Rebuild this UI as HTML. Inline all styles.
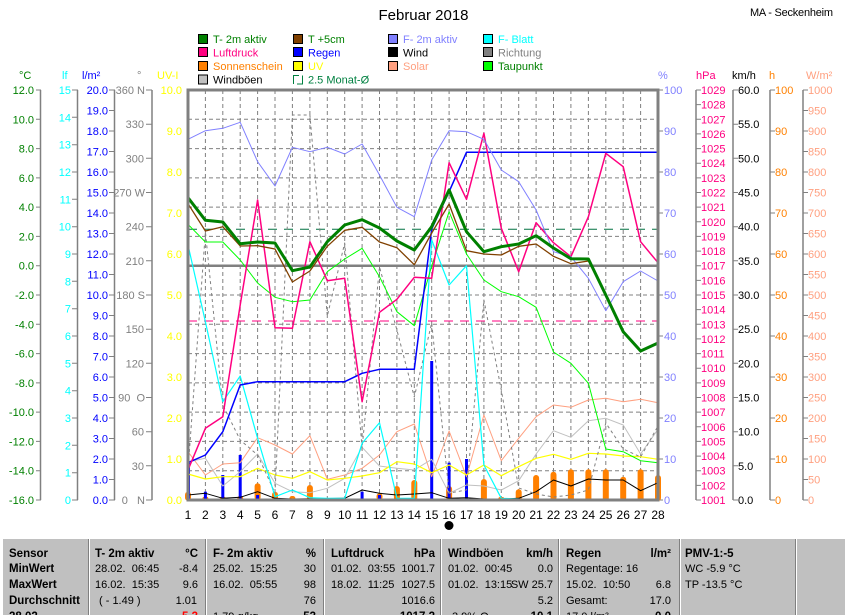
<!DOCTYPE html>
<html><head><meta charset="utf-8"><style>
html,body{margin:0;padding:0;background:#fff;}
svg{display:block;}
text{font-family:"Liberation Sans",sans-serif;}
.pre{white-space:pre;}
</style></head><body>
<svg width="845" height="615" viewBox="0 0 845 615" xmlns="http://www.w3.org/2000/svg">
<rect width="845" height="615" fill="#fff"/>
<text x="423.5" y="20" font-size="15" text-anchor="middle" fill="#000">Februar 2018</text>
<text x="750" y="16" font-size="11" fill="#000" textLength="83">MA - Seckenheim</text>

<!-- Legend -->
<g font-size="11" stroke="#000" stroke-width="1">
<rect x="198.5" y="34.5" width="9" height="9" fill="#008000"/>
<rect x="293.5" y="34.5" width="9" height="9" fill="#804000"/>
<rect x="388.5" y="34.5" width="9" height="9" fill="#8080FF"/>
<rect x="483.5" y="34.5" width="9" height="9" fill="#00FFFF"/>
<rect x="198.5" y="47.5" width="9" height="9" fill="#FF0080"/>
<rect x="293.5" y="47.5" width="9" height="9" fill="#0000FF"/>
<rect x="388.5" y="47.5" width="9" height="9" fill="#000000"/>
<rect x="483.5" y="47.5" width="9" height="9" fill="#808080"/>
<rect x="198.5" y="61.5" width="9" height="9" fill="#FF8000"/>
<rect x="293.5" y="61.5" width="9" height="9" fill="#FFFF00"/>
<rect x="388.5" y="61.5" width="9" height="9" fill="#FFA080"/>
<rect x="483.5" y="61.5" width="9" height="9" fill="#00FF00"/>
<rect x="198.5" y="75" width="9" height="9" fill="#C0C0C0"/>
</g>
<path d="M293.5 84V75.5H299M302.5 75.5V84H297" fill="none" stroke="#008040" stroke-width="1"/>
<g font-size="11" stroke="none">
<text x="213" y="43" fill="#008000">T- 2m aktiv</text>
<text x="308" y="43" fill="#008000">T +5cm</text>
<text x="403" y="43" fill="#8080FF">F- 2m aktiv</text>
<text x="498" y="43" fill="#00FFFF">F- Blatt</text>
<text x="213" y="56.5" fill="#FF0080">Luftdruck</text>
<text x="308" y="56.5" fill="#0000FF">Regen</text>
<text x="403" y="56.5" fill="#000">Wind</text>
<text x="498" y="56.5" fill="#808080">Richtung</text>
<text x="213" y="70" fill="#FF8000">Sonnenschein</text>
<text x="308" y="70" fill="#FFFF00">UV</text>
<text x="403" y="70" fill="#FFA080">Solar</text>
<text x="498" y="70" fill="#008000">Taupunkt</text>
<text x="213" y="83.5" fill="#000">Windböen</text>
<text x="308" y="83.5" fill="#008040">2.5 Monat-Ø</text>
</g>

<!-- Axis titles -->
<g font-size="11">
<text x="19" y="79" fill="#008000">°C</text>
<text x="62" y="79" fill="#00FFFF">lf</text>
<text x="82" y="79" fill="#0000FF">l/m²</text>
<text x="137" y="79" fill="#808080">°</text>
<text x="157" y="79" fill="#FFFF00">UV-I</text>
<text x="658" y="79" fill="#8080FF">%</text>
<text x="696" y="79" fill="#FF0080">hPa</text>
<text x="732" y="79" fill="#000">km/h</text>
<text x="769" y="79" fill="#FF8000">h</text>
<text x="806" y="79" fill="#FFA080">W/m²</text>
</g>

<!-- Left axes lines and ticks -->
<g stroke="#808080" fill="none">
<path stroke-width="1.5" d="M40.5 90V500M77.5 90V500M114.5 90V500M152 90V500M696 90V500M733 90V500M770 90V500M803 90V500"/>
<path stroke-width="1" d="M36 90H41M36 119.3H41M36 148.6H41M36 177.9H41M36 207.1H41M36 236.4H41M36 265.7H41M36 295H41M36 324.3H41M36 353.6H41M36 382.9H41M36 412.1H41M36 441.4H41M36 470.7H41M36 500H41"/>
<path stroke-width="1" d="M72 90H78M72 117.3H78M72 144.7H78M72 172H78M72 199.3H78M72 226.7H78M72 254H78M72 281.3H78M72 308.7H78M72 336H78M72 363.3H78M72 390.7H78M72 418H78M72 445.3H78M72 472.7H78M72 500H78"/>
<path stroke-width="1" d="M109 90H115M109 110.5H115M109 131H115M109 151.5H115M109 172H115M109 192.5H115M109 213H115M109 233.5H115M109 254H115M109 274.5H115M109 295H115M109 315.5H115M109 336H115M109 356.5H115M109 377H115M109 397.5H115M109 418H115M109 438.5H115M109 459H115M109 479.5H115M109 500H115"/>
<path stroke-width="1" d="M146 90H152M146 124.2H152M146 158.3H152M146 192.5H152M146 226.7H152M146 260.8H152M146 295H152M146 329.2H152M146 363.3H152M146 397.5H152M146 431.7H152M146 465.8H152M146 500H152"/>
<path stroke-width="1" d="M658 90H663M658 131H663M658 172H663M658 213H663M658 254H663M658 295H663M658 336H663M658 377H663M658 418H663M658 459H663M658 500H663"/>
<path stroke-width="1" d="M696 90H701M696 104.6H701M696 119.3H701M696 133.9H701M696 148.6H701M696 163.2H701M696 177.9H701M696 192.5H701M696 207.1H701M696 221.8H701M696 236.4H701M696 251.1H701M696 265.7H701M696 280.4H701M696 295H701M696 309.6H701M696 324.3H701M696 338.9H701M696 353.6H701M696 368.2H701M696 382.9H701M696 397.5H701M696 412.1H701M696 426.8H701M696 441.4H701M696 456.1H701M696 470.7H701M696 485.4H701M696 500H701"/>
<path stroke-width="1" d="M733 90H738M733 124.2H738M733 158.3H738M733 192.5H738M733 226.7H738M733 260.8H738M733 295H738M733 329.2H738M733 363.3H738M733 397.5H738M733 431.7H738M733 465.8H738M733 500H738"/>
<path stroke-width="1" d="M770 90H775M770 131H775M770 172H775M770 213H775M770 254H775M770 295H775M770 336H775M770 377H775M770 418H775M770 459H775M770 500H775"/>
<path stroke-width="1" d="M803 90H808M803 110.5H808M803 131H808M803 151.5H808M803 172H808M803 192.5H808M803 213H808M803 233.5H808M803 254H808M803 274.5H808M803 295H808M803 315.5H808M803 336H808M803 356.5H808M803 377H808M803 397.5H808M803 418H808M803 438.5H808M803 459H808M803 479.5H808M803 500H808"/>
</g>

<!-- °C labels -->
<g font-size="11" fill="#008000" text-anchor="end">
<text x="34" y="94">12.0</text><text x="34" y="123.3">10.0</text><text x="34" y="152.6">8.0</text><text x="34" y="181.9">6.0</text><text x="34" y="211.1">4.0</text><text x="34" y="240.4">2.0</text><text x="34" y="269.7">0.0</text><text x="34" y="299">-2.0</text><text x="34" y="328.3">-4.0</text><text x="34" y="357.6">-6.0</text><text x="34" y="386.9">-8.0</text><text x="34" y="416.1">-10.0</text><text x="34" y="445.4">-12.0</text><text x="34" y="474.7">-14.0</text><text x="34" y="504">-16.0</text>
</g>
<!-- lf labels -->
<g font-size="11" fill="#00FFFF" text-anchor="end">
<text x="71" y="94">15</text><text x="71" y="121.3">14</text><text x="71" y="148.7">13</text><text x="71" y="176">12</text><text x="71" y="203.3">11</text><text x="71" y="230.7">10</text><text x="71" y="258">9</text><text x="71" y="285.3">8</text><text x="71" y="312.7">7</text><text x="71" y="340">6</text><text x="71" y="367.3">5</text><text x="71" y="394.7">4</text><text x="71" y="422">3</text><text x="71" y="449.3">2</text><text x="71" y="476.7">1</text><text x="71" y="504">0</text>
</g>
<!-- l/m2 labels -->
<g font-size="11" fill="#0000FF" text-anchor="end">
<text x="108" y="94">20.0</text><text x="108" y="114.5">19.0</text><text x="108" y="135">18.0</text><text x="108" y="155.5">17.0</text><text x="108" y="176">16.0</text><text x="108" y="196.5">15.0</text><text x="108" y="217">14.0</text><text x="108" y="237.5">13.0</text><text x="108" y="258">12.0</text><text x="108" y="278.5">11.0</text><text x="108" y="299">10.0</text><text x="108" y="319.5">9.0</text><text x="108" y="340">8.0</text><text x="108" y="360.5">7.0</text><text x="108" y="381">6.0</text><text x="108" y="401.5">5.0</text><text x="108" y="422">4.0</text><text x="108" y="442.5">3.0</text><text x="108" y="463">2.0</text><text x="108" y="483.5">1.0</text><text x="108" y="504">0.0</text>
</g>
<!-- direction labels -->
<g font-size="11" fill="#808080" text-anchor="end" class="pre">
<text x="145" y="94" class="pre">360 N</text><text x="144" y="128.2">330</text><text x="144" y="162.3">300</text><text x="145" y="196.5" class="pre">270 W</text><text x="144" y="230.7">240</text><text x="144" y="264.8">210</text><text x="145" y="299" class="pre">180 S</text><text x="144" y="333.2">150</text><text x="144" y="367.3">120</text><text x="145" y="401.5" class="pre">90  O</text><text x="144" y="435.7">60</text><text x="144" y="469.8">30</text><text x="145" y="504" class="pre">0   N</text>
</g>
<!-- UV labels -->
<g font-size="11" fill="#FFFF00" text-anchor="end">
<text x="182" y="94">10.0</text><text x="182" y="135">9.0</text><text x="182" y="176">8.0</text><text x="182" y="217">7.0</text><text x="182" y="258">6.0</text><text x="182" y="299">5.0</text><text x="182" y="340">4.0</text><text x="182" y="381">3.0</text><text x="182" y="422">2.0</text><text x="182" y="463">1.0</text><text x="182" y="504">0.0</text>
</g>
<!-- % labels -->
<g font-size="11" fill="#8080FF">
<text x="664" y="94">100</text><text x="664" y="135">90</text><text x="664" y="176">80</text><text x="664" y="217">70</text><text x="664" y="258">60</text><text x="664" y="299">50</text><text x="664" y="340">40</text><text x="664" y="381">30</text><text x="664" y="422">20</text><text x="664" y="463">10</text><text x="664" y="504">0</text>
</g>
<!-- hPa labels -->
<g font-size="11" fill="#FF0080">
<text x="701" y="94">1029</text><text x="701" y="108.6">1028</text><text x="701" y="123.3">1027</text><text x="701" y="137.9">1026</text><text x="701" y="152.6">1025</text><text x="701" y="167.2">1024</text><text x="701" y="181.9">1023</text><text x="701" y="196.5">1022</text><text x="701" y="211.1">1021</text><text x="701" y="225.8">1020</text><text x="701" y="240.4">1019</text><text x="701" y="255.1">1018</text><text x="701" y="269.7">1017</text><text x="701" y="284.4">1016</text><text x="701" y="299">1015</text><text x="701" y="313.6">1014</text><text x="701" y="328.3">1013</text><text x="701" y="342.9">1012</text><text x="701" y="357.6">1011</text><text x="701" y="372.2">1010</text><text x="701" y="386.9">1009</text><text x="701" y="401.5">1008</text><text x="701" y="416.1">1007</text><text x="701" y="430.8">1006</text><text x="701" y="445.4">1005</text><text x="701" y="460.1">1004</text><text x="701" y="474.7">1003</text><text x="701" y="489.4">1002</text><text x="701" y="504">1001</text>
</g>
<!-- km/h labels -->
<g font-size="11" fill="#000">
<text x="738" y="94">60.0</text><text x="738" y="128.2">55.0</text><text x="738" y="162.3">50.0</text><text x="738" y="196.5">45.0</text><text x="738" y="230.7">40.0</text><text x="738" y="264.8">35.0</text><text x="738" y="299">30.0</text><text x="738" y="333.2">25.0</text><text x="738" y="367.3">20.0</text><text x="738" y="401.5">15.0</text><text x="738" y="435.7">10.0</text><text x="738" y="469.8">5.0</text><text x="738" y="504">0.0</text>
</g>
<!-- h labels -->
<g font-size="11" fill="#FF8000">
<text x="775" y="94">100</text><text x="775" y="135">90</text><text x="775" y="176">80</text><text x="775" y="217">70</text><text x="775" y="258">60</text><text x="775" y="299">50</text><text x="775" y="340">40</text><text x="775" y="381">30</text><text x="775" y="422">20</text><text x="775" y="463">10</text><text x="775" y="504">0</text>
</g>
<!-- W/m2 labels -->
<g font-size="11" fill="#FFA080">
<text x="808" y="94">1000</text><text x="808" y="114.5">950</text><text x="808" y="135">900</text><text x="808" y="155.5">850</text><text x="808" y="176">800</text><text x="808" y="196.5">750</text><text x="808" y="217">700</text><text x="808" y="237.5">650</text><text x="808" y="258">600</text><text x="808" y="278.5">550</text><text x="808" y="299">500</text><text x="808" y="319.5">450</text><text x="808" y="340">400</text><text x="808" y="360.5">350</text><text x="808" y="381">300</text><text x="808" y="401.5">250</text><text x="808" y="422">200</text><text x="808" y="442.5">150</text><text x="808" y="463">100</text><text x="808" y="483.5">50</text><text x="808" y="504">0</text>
</g>

<!-- Grid -->
<g stroke="#808080" stroke-width="1" fill="none" stroke-dasharray="4,3">
<path d="M205.4 90V500M222.8 90V500M240.2 90V500M257.6 90V500M275 90V500M292.4 90V500M309.9 90V500M327.3 90V500M344.7 90V500M362.1 90V500M379.5 90V500M396.9 90V500M414.3 90V500M431.7 90V500M449.1 90V500M466.5 90V500M483.9 90V500M501.3 90V500M518.7 90V500M536.1 90V500M553.5 90V500M570.9 90V500M588.4 90V500M605.8 90V500M623.2 90V500M640.6 90V500"/>
<path d="M188 119.3H658M188 148.6H658M188 177.9H658M188 207.1H658M188 236.4H658M188 295H658M188 324.3H658M188 353.6H658M188 382.9H658M188 412.1H658M188 441.4H658M188 470.7H658"/>
</g>
<path d="M188 265.7H658" stroke="#808080" stroke-width="2.5"/>
<path d="M188 229.3H658" stroke="#007040" stroke-width="1" stroke-dasharray="9,7"/>
<path d="M188 321H658" stroke="#FF0080" stroke-width="1" stroke-dasharray="9,7"/>

<!-- Sunshine bars -->
<g fill="#FF8000">
<rect x="185" y="491.7" width="6" height="9" rx="3"/>
<rect x="202.4" y="496.7" width="6" height="4" rx="2"/>
<rect x="219.8" y="496.7" width="6" height="4" rx="2"/>
<rect x="237.2" y="496" width="6" height="5" rx="2.5"/>
<rect x="254.6" y="483.3" width="6" height="17" rx="3"/>
<rect x="272" y="491.7" width="6" height="9" rx="3"/>
<rect x="289.4" y="496" width="6" height="5" rx="2.5"/>
<rect x="306.9" y="485" width="6" height="16" rx="3"/>
<rect x="376.5" y="493.3" width="6" height="7" rx="3"/>
<rect x="393.9" y="486" width="6" height="15" rx="3"/>
<rect x="411.3" y="480" width="6" height="21" rx="3"/>
<rect x="446.1" y="486" width="6" height="15" rx="3"/>
<rect x="480.9" y="479" width="6" height="22" rx="3"/>
<rect x="498.3" y="497" width="6" height="4" rx="2"/>
<rect x="515.7" y="489.3" width="6" height="12" rx="3"/>
<rect x="533.1" y="475" width="6" height="26" rx="3"/>
<rect x="550.5" y="471.7" width="6" height="29" rx="3"/>
<rect x="567.9" y="469.3" width="6" height="32" rx="3"/>
<rect x="585.4" y="469.3" width="6" height="32" rx="3"/>
<rect x="602.8" y="469.3" width="6" height="32" rx="3"/>
<rect x="620.2" y="476.7" width="6" height="24" rx="3"/>
<rect x="637.6" y="469.3" width="6" height="32" rx="3"/>
<rect x="655" y="475" width="6" height="26" rx="3"/>
</g>
<!-- Rain bars -->
<g fill="#0000FF">
<rect x="187" y="462.7" width="3" height="37.3"/>
<rect x="203.9" y="491.7" width="3" height="8.3"/>
<rect x="221.3" y="475" width="3" height="25"/>
<rect x="238.7" y="455" width="3" height="45"/>
<rect x="256.1" y="495" width="3" height="5"/>
<rect x="360.6" y="491.7" width="3" height="8.3"/>
<rect x="378" y="495" width="3" height="5"/>
<rect x="430.2" y="361" width="3" height="139"/>
<rect x="447.6" y="462.7" width="3" height="37.3"/>
<rect x="465" y="459" width="3" height="41"/>
</g>

<g fill="none" stroke-linejoin="round">
<!-- Solar -->
<polyline stroke="#FFA080" stroke-width="1" points="188,451.7 205.4,475 222.8,464 240.2,462.7 257.6,437.7 275,445 292.4,454 309.9,435.7 327.3,479.3 344.7,475 362.1,468.3 379.5,455 396.9,431.7 414.3,424 431.7,476.7 449.1,431 466.5,476.7 483.9,415 501.3,460.7 518.7,438.3 536.1,416.7 553.5,405 570.9,407.3 588.4,400 605.8,398.3 623.2,401.7 640.6,399.3 658,402.7"/>
<!-- Windboeen -->
<polyline stroke="#C0C0C0" stroke-width="1" points="188,461.7 205.4,458.3 222.8,486 240.2,471.7 257.6,454 275,483.3 292.4,491.7 309.9,492.7 327.3,488.3 344.7,478.3 362.1,447.3 379.5,466 396.9,468.3 414.3,470 431.7,459.3 449.1,493.3 466.5,485 483.9,486 501.3,490 518.7,480.7 536.1,454 553.5,430.7 570.9,437.3 588.4,420.7 605.8,418.3 623.2,425 640.6,454 658,429.3"/>
<!-- UV -->
<polyline stroke="#FFFF00" stroke-width="1.2" points="188,474 205.4,479 222.8,476.7 240.2,476.7 257.6,468.3 275,475 292.4,478.3 309.9,471.7 327.3,480 344.7,478.3 362.1,476 379.5,472.7 396.9,461.7 414.3,464 431.7,472.7 449.1,465 466.5,475 483.9,465 501.3,475.7 518.7,466.7 536.1,458.3 553.5,454.3 570.9,459.3 588.4,453.3 605.8,454 623.2,456 640.6,456.7 658,459.3"/>
<!-- Wind -->
<polyline stroke="#000" stroke-width="1" points="188,495 205.4,493.3 222.8,498.3 240.2,497.3 257.6,491.7 275,498.3 292.4,499 344.7,498.3 362.1,490 379.5,493.3 396.9,495 414.3,494 431.7,492.7 449.1,498.3 466.5,497.7 483.9,499 501.3,499 518.7,498.3 536.1,491.7 553.5,480 570.9,486 588.4,479 605.8,480 623.2,480 640.6,490.7 658,482.7"/>
<!-- Richtung -->
<polyline stroke="#808080" stroke-width="1" stroke-dasharray="3,3" points="188,470 205.4,232 222.8,405 240.2,440 257.6,455 275,493 292.4,115 309.9,115 327.3,316 344.7,243 362.1,448 379.5,267 396.9,330 414.3,397 431.7,323 449.1,493 466.5,490 483.9,300 501.3,390 518.7,488 536.1,494 553.5,497 570.9,495 588.4,490 605.8,423 623.2,449 640.6,457 658,426"/>
<!-- F-Blatt -->
<polyline stroke="#00FFFF" stroke-width="1.2" points="188,245 205.4,321.7 222.8,401.7 240.2,376 257.6,438.3 275,496.7 292.4,490 309.9,497.7 327.3,498.3 344.7,498.3 362.1,443.3 379.5,422.7 396.9,498.3 414.3,498.3 431.7,240 449.1,285 466.5,265.7 483.9,465 501.3,498.3 518.7,499"/>
<!-- Taupunkt -->
<polyline stroke="#00FF00" stroke-width="1" points="188,224.3 205.4,242 222.8,242 240.2,260 257.6,283 275,297.3 292.4,301.7 309.9,300 327.3,271.7 344.7,259 362.1,248.3 379.5,276.7 396.9,311.7 414.3,325.7 431.7,266 449.1,211.7 466.5,254 483.9,280 501.3,291.7 518.7,296.7 536.1,307.3 553.5,352 570.9,363.3 588.4,383.3 605.8,449 623.2,451.7 640.6,460.7 658,462.7"/>
<!-- Regen cumulative -->
<polyline stroke="#0000FF" stroke-width="1.5" points="188,462.7 205.4,455 222.8,431.7 240.2,385 257.6,381.7 344.7,381.7 362.1,373.3 379.5,369.3 414.3,369.3 431.7,229 449.1,191.7 466.5,152.3 658,152.3"/>
<!-- Luftdruck -->
<polyline stroke="#FF0080" stroke-width="1.5" points="188,470 205.4,428.3 222.8,416.7 240.2,305 257.6,200 275,327.7 292.4,328.3 309.9,241.7 327.3,280.7 344.7,278.3 362.1,401.7 379.5,312.3 396.9,299.3 414.3,277.3 431.7,278.3 449.1,162.7 466.5,199.3 483.9,133.3 501.3,228.3 518.7,271.7 536.1,222.7 553.5,242.7 570.9,256.7 588.4,216.7 605.8,153.3 623.2,166.7 640.6,241.7 658,262.7"/>
<!-- F-2m -->
<polyline stroke="#8080FF" stroke-width="1" points="188,139.3 205.4,130.7 222.8,128.3 240.2,122.3 257.6,161.7 275,186 292.4,147.3 309.9,151.7 327.3,147.3 344.7,154 362.1,144 379.5,175 396.9,207.3 414.3,216.7 431.7,160 449.1,130.7 466.5,131.7 483.9,139.3 501.3,170 518.7,181.7 536.1,210 553.5,251.7 570.9,256.7 588.4,278.3 605.8,310.7 623.2,281.7 640.6,271 658,281"/>
<!-- T+5cm -->
<polyline stroke="#804000" stroke-width="1.3" points="188,203.7 205.4,231 222.8,226.7 240.2,246 257.6,245.7 275,249 292.4,282 309.9,271 327.3,246.3 344.7,230.3 362.1,227.3 379.5,242 396.9,247.7 414.3,264.7 431.7,233 449.1,204 466.5,250.7 483.9,254 501.3,255 518.7,246.3 536.1,244 553.5,256.3 570.9,263.7 588.4,261 605.8,295 623.2,331.7 640.6,351 658,343"/>
<!-- T-2m -->
<polyline stroke="#008000" stroke-width="3" points="188,197.7 205.4,220.3 222.8,222 240.2,243.7 257.6,242 275,243 292.4,270.7 309.9,267 327.3,241.7 344.7,225 362.1,219.7 379.5,228 396.9,241 414.3,250 431.7,226.7 449.1,190 466.5,231.7 483.9,251.7 501.3,246.7 518.7,244 536.1,235.7 553.5,248 570.9,258.7 588.4,259 605.8,295 623.2,331.7 640.6,351 658,343"/>
</g>

<!-- Chart frame -->
<rect x="188" y="90" width="470" height="410" fill="none" stroke="#808080" stroke-width="3"/>

<!-- X labels -->
<g font-size="12" fill="#000" text-anchor="middle">
<text x="188" y="519">1</text><text x="205.4" y="519">2</text><text x="222.8" y="519">3</text><text x="240.2" y="519">4</text><text x="257.6" y="519">5</text><text x="275" y="519">6</text><text x="292.4" y="519">7</text><text x="309.9" y="519">8</text><text x="327.3" y="519">9</text><text x="344.7" y="519">10</text><text x="362.1" y="519">11</text><text x="379.5" y="519">12</text><text x="396.9" y="519">13</text><text x="414.3" y="519">14</text><text x="431.7" y="519">15</text><text x="449.1" y="519">16</text><text x="466.5" y="519">17</text><text x="483.9" y="519">18</text><text x="501.3" y="519">19</text><text x="518.7" y="519">20</text><text x="536.1" y="519">21</text><text x="553.5" y="519">22</text><text x="570.9" y="519">23</text><text x="588.4" y="519">24</text><text x="605.8" y="519">25</text><text x="623.2" y="519">26</text><text x="640.6" y="519">27</text><text x="658" y="519">28</text>
</g>
<circle cx="449" cy="525.5" r="4.5" fill="#000"/>

<!-- Table -->
<rect x="3" y="539" width="842" height="76" fill="#C0C0C0"/>
<g stroke-width="1">
<path d="M88.5 539V615M205.5 539V615M323.5 539V615M440.5 539V615M558.5 539V615M679.5 539V615M795.5 539V615" stroke="#808080"/>
<path d="M89.5 539V615M206.5 539V615M324.5 539V615M441.5 539V615M559.5 539V615M680.5 539V615M796.5 539V615" stroke="#FFFFFF"/>
</g>
<g font-size="11.5" font-weight="bold" fill="#000">
<text x="9" y="557">Sensor</text>
<text x="9" y="572">MinWert</text>
<text x="9" y="588">MaxWert</text>
<text x="9" y="604">Durchschnitt</text>
<text x="9" y="620">28.02.</text>
<text x="95" y="557">T- 2m aktiv</text>
<text x="198" y="557" text-anchor="end">°C</text>
<text x="213" y="557">F- 2m aktiv</text>
<text x="316" y="557" text-anchor="end">%</text>
<text x="331" y="557">Luftdruck</text>
<text x="435" y="557" text-anchor="end">hPa</text>
<text x="448" y="557">Windböen</text>
<text x="553" y="557" text-anchor="end">km/h</text>
<text x="566" y="557">Regen</text>
<text x="671" y="557" text-anchor="end">l/m²</text>
<text x="685" y="557">PMV-1:-5</text>
<text x="198" y="620" text-anchor="end" fill="#FF0000">5.3</text>
<text x="316" y="620" text-anchor="end">53</text>
<text x="435" y="620" text-anchor="end">1017.2</text>
<text x="553" y="620" text-anchor="end">10.1</text>
<text x="671" y="620" text-anchor="end">0.0</text>
</g>
<g font-size="11" fill="#000">
<text x="95" y="572" class="pre">28.02.  06:45</text>
<text x="198" y="572" text-anchor="end">-8.4</text>
<text x="95" y="588" class="pre">16.02.  15:35</text>
<text x="198" y="588" text-anchor="end">9.6</text>
<text x="99" y="604" class="pre">( - 1.49 )</text>
<text x="197" y="604" text-anchor="end">1.01</text>
<text x="213" y="572" class="pre">25.02.  15:25</text>
<text x="316" y="572" text-anchor="end">30</text>
<text x="213" y="588" class="pre">16.02.  05:55</text>
<text x="316" y="588" text-anchor="end">98</text>
<text x="316" y="604" text-anchor="end">76</text>
<text x="213" y="620">1.79 g/kg</text>
<text x="331" y="572" class="pre">01.02.  03:55</text>
<text x="435" y="572" text-anchor="end">1001.7</text>
<text x="331" y="588" class="pre">18.02.  11:25</text>
<text x="435" y="588" text-anchor="end">1027.5</text>
<text x="435" y="604" text-anchor="end">1016.6</text>
<text x="448" y="572" class="pre">01.02.  00:45</text>
<text x="553" y="572" text-anchor="end">0.0</text>
<text x="448" y="588" class="pre">01.02.  13:15</text>
<text x="553" y="588" text-anchor="end" class="pre">SW 25.7</text>
<text x="553" y="604" text-anchor="end">5.2</text>
<text x="452" y="620">3.9% O</text>
<text x="566" y="572">Regentage: 16</text>
<text x="566" y="588" class="pre">15.02.  10:50</text>
<text x="671" y="588" text-anchor="end">6.8</text>
<text x="566" y="604">Gesamt:</text>
<text x="671" y="604" text-anchor="end">17.0</text>
<text x="566" y="620">17.0 l/m²</text>
<text x="685" y="572">WC -5.9 °C</text>
<text x="685" y="588">TP -13.5 °C</text>
</g>
</svg>
</body></html>
